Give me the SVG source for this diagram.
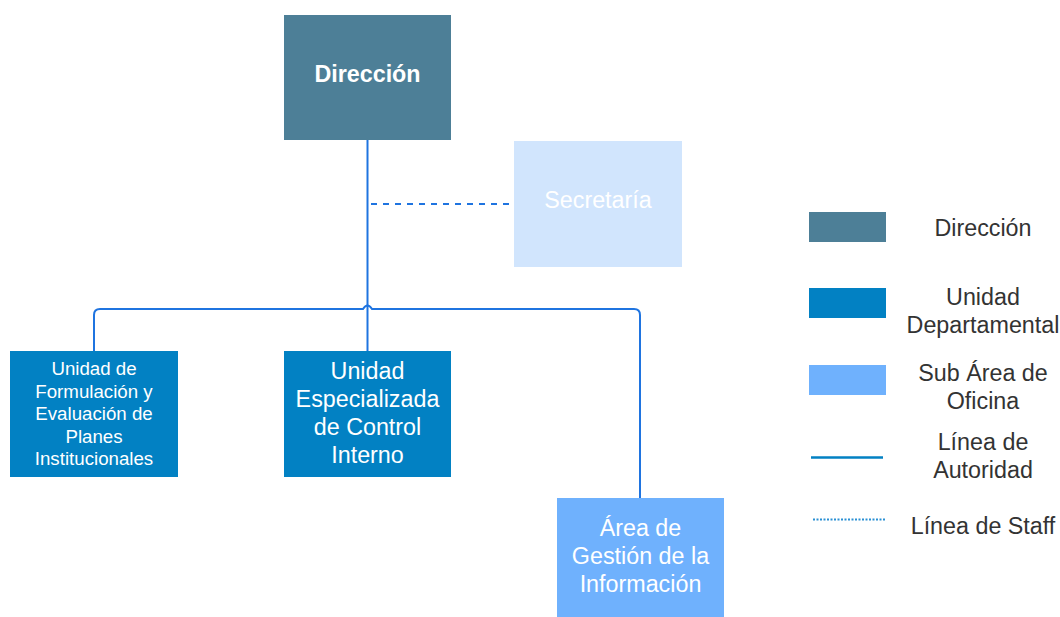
<svg xmlns="http://www.w3.org/2000/svg" width="1060" height="617" viewBox="0 0 1060 617">
<style>
text{font-family:"Liberation Sans",Arial,sans-serif;text-anchor:middle}
.w{fill:#ffffff}
.lg{fill:#333333;font-size:23.3px}
.conn{fill:none;stroke:#1f74e0;stroke-width:2}
.staff{fill:none;stroke:#1f74e0;stroke-width:2;stroke-dasharray:6 6}
</style>
<rect width="1060" height="617" fill="#ffffff"/>
<g id="connectors">
<path class="conn" d="M367.5 140 V351"/>
<path class="conn" d="M94 351 V315 Q94 309 100 309 H363 Q367.5 302 372 309 H634 Q640 309 640 315 V498"/>
<path class="staff" d="M371 204 H514"/>
</g>
<g id="direccion">
<rect x="284" y="15" width="167" height="125" fill="#4d7f97"/>
<text x="367.5" y="82" class="w" font-size="23.3" font-weight="bold">Dirección</text>
</g>
<g id="secretaria">
<rect x="514" y="141" width="168" height="126" fill="#d1e5fd"/>
<text x="598" y="208" class="w" font-size="23.3">Secretaría</text>
</g>
<g id="unidad-formulacion">
<rect x="10" y="351" width="168" height="126" fill="#0281c3"/>
<text class="w" font-size="18.7"><tspan x="94" y="375">Unidad de</tspan><tspan x="94" y="397.5">Formulación y</tspan><tspan x="94" y="420">Evaluación de</tspan><tspan x="94" y="442.5">Planes</tspan><tspan x="94" y="465">Institucionales</tspan></text>
</g>
<g id="unidad-control">
<rect x="284" y="351" width="167" height="126" fill="#0281c3"/>
<text class="w" font-size="23.3"><tspan x="367.5" y="379">Unidad</tspan><tspan x="367.5" y="407">Especializada</tspan><tspan x="367.5" y="435">de Control</tspan><tspan x="367.5" y="463">Interno</tspan></text>
</g>
<g id="area-gestion">
<rect x="557" y="498" width="167" height="119" fill="#6fb1fd"/>
<text class="w" font-size="23.3"><tspan x="640.5" y="536">Área de</tspan><tspan x="640.5" y="564">Gestión de la</tspan><tspan x="640.5" y="592">Información</tspan></text>
</g>
<g id="legend">
<rect x="809" y="212" width="77" height="30" fill="#4d7f97"/>
<rect x="809" y="288" width="77" height="30" fill="#0281c3"/>
<rect x="809" y="365" width="77" height="30" fill="#6fb1fd"/>
<line x1="811" y1="457.5" x2="883" y2="457.5" stroke="#0281c3" stroke-width="2.5"/>
<line x1="813" y1="519.5" x2="886" y2="519.5" stroke="#2a90d4" stroke-width="2" stroke-dasharray="2 1.5"/>
<text class="lg" x="983" y="236">Dirección</text>
<text class="lg"><tspan x="983" y="305">Unidad</tspan><tspan x="983" y="333">Departamental</tspan></text>
<text class="lg"><tspan x="983" y="381">Sub Área de</tspan><tspan x="983" y="409">Oficina</tspan></text>
<text class="lg"><tspan x="983" y="450">Línea de</tspan><tspan x="983" y="478">Autoridad</tspan></text>
<text class="lg" x="983" y="534">Línea de Staff</text>
</g>
</svg>
